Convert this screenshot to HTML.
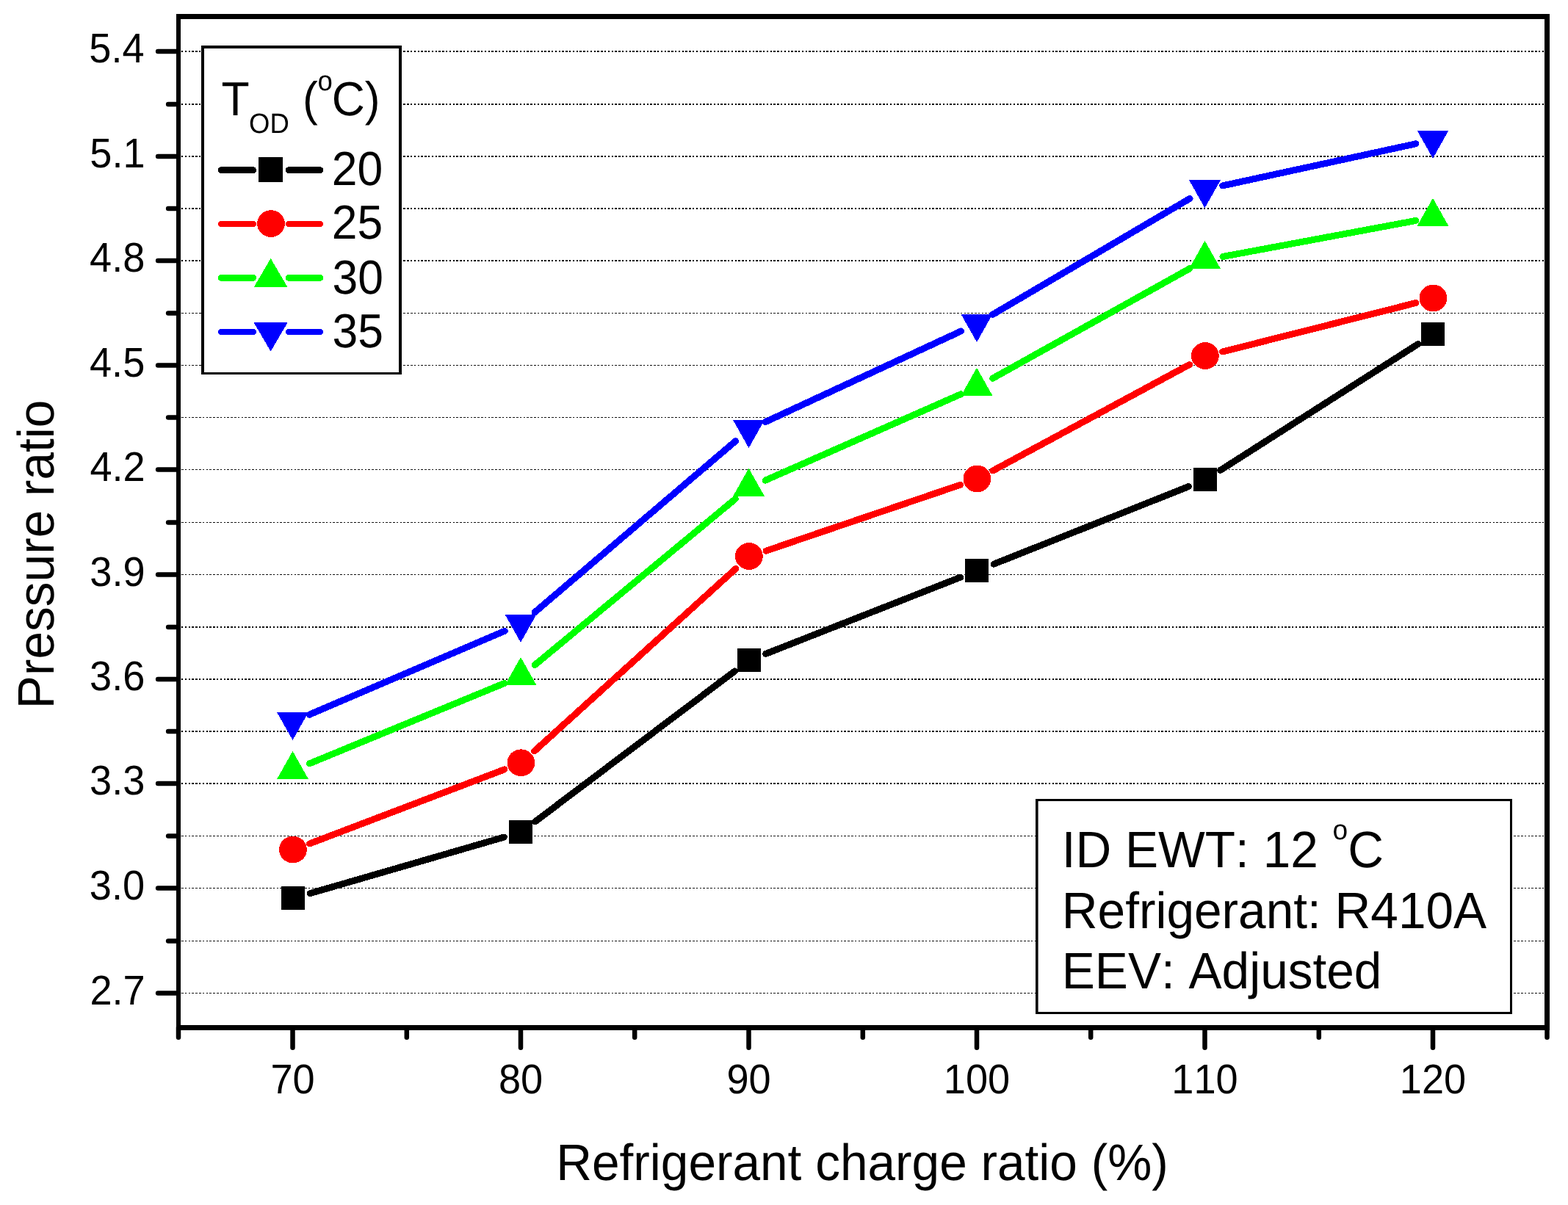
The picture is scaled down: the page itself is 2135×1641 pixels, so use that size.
<!DOCTYPE html>
<html lang="en">
<head>
<meta charset="utf-8">
<title>Pressure ratio vs refrigerant charge ratio</title>
<style>
html,body{margin:0;padding:0;background:#ffffff;}
body{width:2135px;height:1641px;overflow:hidden;}
svg{display:block;}
</style>
</head>
<body>
<svg width="2135" height="1641" viewBox="0 0 2135 1641" font-family="'Liberation Sans', Arial, Helvetica, sans-serif" fill="#000" text-rendering="geometricPrecision" style="font-kerning:none">
<rect x="0" y="0" width="2135" height="1641" fill="#ffffff"/>
<g stroke="#000" fill="none" shape-rendering="crispEdges">
<line x1="247" y1="1352.5" x2="2103" y2="1352.5" stroke-width="1" stroke-dasharray="2.5 2.3"/>
<line x1="247" y1="1281.5" x2="2103" y2="1281.5" stroke-width="1" stroke-dasharray="2.5 2.3"/>
<line x1="247" y1="1209.5" x2="2103" y2="1209.5" stroke-width="1" stroke-dasharray="2.5 2.3"/>
<line x1="247" y1="1138.5" x2="2103" y2="1138.5" stroke-width="1" stroke-dasharray="2.5 2.3"/>
<line x1="247" y1="1067" x2="2103" y2="1067" stroke-width="2" stroke-dasharray="2.4 2.4"/>
<line x1="247" y1="996" x2="2103" y2="996" stroke-width="2" stroke-dasharray="2.4 2.4"/>
<line x1="247" y1="925" x2="2103" y2="925" stroke-width="2" stroke-dasharray="2.4 2.4"/>
<line x1="247" y1="854" x2="2103" y2="854" stroke-width="2" stroke-dasharray="2.4 2.4"/>
<line x1="247" y1="782.5" x2="2103" y2="782.5" stroke-width="1" stroke-dasharray="2.5 2.3"/>
<line x1="247" y1="711.5" x2="2103" y2="711.5" stroke-width="1" stroke-dasharray="2.5 2.3"/>
<line x1="247" y1="639.5" x2="2103" y2="639.5" stroke-width="1" stroke-dasharray="2.5 2.3"/>
<line x1="247" y1="568.5" x2="2103" y2="568.5" stroke-width="1" stroke-dasharray="2.5 2.3"/>
<line x1="247" y1="497.5" x2="2103" y2="497.5" stroke-width="1" stroke-dasharray="2.5 2.3"/>
<line x1="247" y1="426.5" x2="2103" y2="426.5" stroke-width="1" stroke-dasharray="2.5 2.3"/>
<line x1="247" y1="355" x2="2103" y2="355" stroke-width="2" stroke-dasharray="2.4 2.4"/>
<line x1="247" y1="284" x2="2103" y2="284" stroke-width="2" stroke-dasharray="2.4 2.4"/>
<line x1="247" y1="213" x2="2103" y2="213" stroke-width="2" stroke-dasharray="2.4 2.4"/>
<line x1="247" y1="142" x2="2103" y2="142" stroke-width="2" stroke-dasharray="2.4 2.4"/>
<line x1="247" y1="70" x2="2103" y2="70" stroke-width="2" stroke-dasharray="2.4 2.4"/>
</g>
<g shape-rendering="crispEdges">
<g stroke="#000000" stroke-width="9.0" stroke-linecap="round" fill="none">
<line x1="422.3" y1="1216.6" x2="686.2" y2="1140.1"/>
<line x1="728.9" y1="1118.7" x2="1000.6" y2="913.9"/>
<line x1="1042.6" y1="890.4" x2="1307.9" y2="786.1"/>
<line x1="1353.1" y1="768.2" x2="1618.4" y2="662.6"/>
<line x1="1661.5" y1="640.5" x2="1931.0" y2="468.4"/>
</g>
<rect x="382.5" y="1206.9" width="32" height="32" fill="#000000"/>
<rect x="693.0" y="1116.8" width="32" height="32" fill="#000000"/>
<rect x="1003.5" y="882.8" width="32" height="32" fill="#000000"/>
<rect x="1314.0" y="760.7" width="32" height="32" fill="#000000"/>
<rect x="1624.5" y="637.1" width="32" height="32" fill="#000000"/>
<rect x="1935.0" y="438.8" width="32" height="32" fill="#000000"/>
<g stroke="#ff0000" stroke-width="9.0" stroke-linecap="round" fill="none">
<line x1="421.7" y1="1148.9" x2="686.8" y2="1047.9"/>
<line x1="727.5" y1="1023.0" x2="1002.0" y2="774.3"/>
<line x1="1043.0" y1="750.2" x2="1307.5" y2="660.3"/>
<line x1="1351.9" y1="641.0" x2="1619.6" y2="496.5"/>
<line x1="1664.6" y1="479.0" x2="1927.9" y2="412.5"/>
</g>
<ellipse cx="398.9" cy="1157.0" rx="18.9" ry="18.4" fill="#ff0000"/>
<ellipse cx="709.4" cy="1038.8" rx="18.9" ry="18.4" fill="#ff0000"/>
<ellipse cx="1019.9" cy="757.5" rx="18.9" ry="18.4" fill="#ff0000"/>
<ellipse cx="1330.4" cy="652.0" rx="18.9" ry="18.4" fill="#ff0000"/>
<ellipse cx="1640.9" cy="484.5" rx="18.9" ry="18.4" fill="#ff0000"/>
<ellipse cx="1951.4" cy="406.0" rx="18.9" ry="18.4" fill="#ff0000"/>
<g stroke="#00ff00" stroke-width="9.0" stroke-linecap="round" fill="none">
<line x1="421.5" y1="1039.8" x2="687.0" y2="930.4"/>
<line x1="728.2" y1="905.6" x2="1001.3" y2="679.4"/>
<line x1="1042.2" y1="654.1" x2="1308.3" y2="536.8"/>
<line x1="1351.7" y1="515.2" x2="1619.8" y2="365.8"/>
<line x1="1664.9" y1="349.5" x2="1927.6" y2="300.5"/>
</g>
<polygon points="377.9,1060.5 419.1,1060.5 398.5,1023.9" fill="#00ff00" stroke="#00ff00" stroke-width="1" stroke-linejoin="round"/>
<polygon points="688.4,932.5 729.6,932.5 709.0,895.9" fill="#00ff00" stroke="#00ff00" stroke-width="1" stroke-linejoin="round"/>
<polygon points="998.9,675.3 1040.1,675.3 1019.5,638.7" fill="#00ff00" stroke="#00ff00" stroke-width="1" stroke-linejoin="round"/>
<polygon points="1309.4,538.4 1350.6,538.4 1330.0,501.8" fill="#00ff00" stroke="#00ff00" stroke-width="1" stroke-linejoin="round"/>
<polygon points="1619.9,365.4 1661.1,365.4 1640.5,328.8" fill="#00ff00" stroke="#00ff00" stroke-width="1" stroke-linejoin="round"/>
<polygon points="1930.4,307.4 1971.6,307.4 1951.0,270.8" fill="#00ff00" stroke="#00ff00" stroke-width="1" stroke-linejoin="round"/>
<g stroke="#0000ff" stroke-width="9.0" stroke-linecap="round" fill="none">
<line x1="421.3" y1="973.2" x2="687.2" y2="859.3"/>
<line x1="728.0" y1="833.9" x2="1001.5" y2="600.7"/>
<line x1="1042.0" y1="574.7" x2="1308.5" y2="451.0"/>
<line x1="1351.4" y1="428.5" x2="1620.1" y2="270.4"/>
<line x1="1664.7" y1="252.9" x2="1927.8" y2="195.8"/>
</g>
<polygon points="377.9,970.4 419.1,970.4 398.5,1007.0" fill="#0000ff" stroke="#0000ff" stroke-width="1" stroke-linejoin="round"/>
<polygon points="688.4,837.3 729.6,837.3 709.0,873.9" fill="#0000ff" stroke="#0000ff" stroke-width="1" stroke-linejoin="round"/>
<polygon points="998.9,572.5 1040.1,572.5 1019.5,609.1" fill="#0000ff" stroke="#0000ff" stroke-width="1" stroke-linejoin="round"/>
<polygon points="1309.4,428.4 1350.6,428.4 1330.0,465.0" fill="#0000ff" stroke="#0000ff" stroke-width="1" stroke-linejoin="round"/>
<polygon points="1619.9,245.7 1661.1,245.7 1640.5,282.3" fill="#0000ff" stroke="#0000ff" stroke-width="1" stroke-linejoin="round"/>
<polygon points="1930.4,178.2 1971.6,178.2 1951.0,214.8" fill="#0000ff" stroke="#0000ff" stroke-width="1" stroke-linejoin="round"/>
</g>
<path d="M240 19H2110V1403H240Z M246 26V1396H2103V26Z" fill="#000" fill-rule="evenodd" shape-rendering="crispEdges"/>
<g stroke="#000" stroke-width="6.5" stroke-linecap="round" fill="none">
<line x1="243" y1="1352.5" x2="215.1" y2="1352.5"/>
<line x1="243" y1="1281.5" x2="229.1" y2="1281.5"/>
<line x1="243" y1="1209.5" x2="215.1" y2="1209.5"/>
<line x1="243" y1="1138.5" x2="229.1" y2="1138.5"/>
<line x1="243" y1="1067.0" x2="215.1" y2="1067.0"/>
<line x1="243" y1="996.0" x2="229.1" y2="996.0"/>
<line x1="243" y1="925.0" x2="215.1" y2="925.0"/>
<line x1="243" y1="854.0" x2="229.1" y2="854.0"/>
<line x1="243" y1="782.5" x2="215.1" y2="782.5"/>
<line x1="243" y1="711.5" x2="229.1" y2="711.5"/>
<line x1="243" y1="639.5" x2="215.1" y2="639.5"/>
<line x1="243" y1="568.5" x2="229.1" y2="568.5"/>
<line x1="243" y1="497.5" x2="215.1" y2="497.5"/>
<line x1="243" y1="426.5" x2="229.1" y2="426.5"/>
<line x1="243" y1="355.0" x2="215.1" y2="355.0"/>
<line x1="243" y1="284.0" x2="229.1" y2="284.0"/>
<line x1="243" y1="213.0" x2="215.1" y2="213.0"/>
<line x1="243" y1="142.0" x2="229.1" y2="142.0"/>
<line x1="243" y1="70.0" x2="215.1" y2="70.0"/>
<line x1="243.0" y1="1399.5" x2="243.0" y2="1412.7"/>
<line x1="398.5" y1="1399.5" x2="398.5" y2="1426.7"/>
<line x1="553.8" y1="1399.5" x2="553.8" y2="1412.7"/>
<line x1="709.0" y1="1399.5" x2="709.0" y2="1426.7"/>
<line x1="864.2" y1="1399.5" x2="864.2" y2="1412.7"/>
<line x1="1019.5" y1="1399.5" x2="1019.5" y2="1426.7"/>
<line x1="1174.8" y1="1399.5" x2="1174.8" y2="1412.7"/>
<line x1="1330.0" y1="1399.5" x2="1330.0" y2="1426.7"/>
<line x1="1485.2" y1="1399.5" x2="1485.2" y2="1412.7"/>
<line x1="1640.5" y1="1399.5" x2="1640.5" y2="1426.7"/>
<line x1="1795.8" y1="1399.5" x2="1795.8" y2="1412.7"/>
<line x1="1951.0" y1="1399.5" x2="1951.0" y2="1426.7"/>
<line x1="2106.5" y1="1399.5" x2="2106.5" y2="1412.7"/>
</g>
<text transform="translate(122.45 1368.00) scale(0.955 1)" font-size="56.7">2.7</text>
<text transform="translate(121.84 1225.00) scale(0.955 1)" font-size="56.7">3.0</text>
<text transform="translate(122.11 1082.00) scale(0.955 1)" font-size="56.7">3.3</text>
<text transform="translate(122.11 940.00) scale(0.955 1)" font-size="56.7">3.6</text>
<text transform="translate(122.29 798.00) scale(0.955 1)" font-size="56.7">3.9</text>
<text transform="translate(122.45 655.00) scale(0.955 1)" font-size="56.7">4.2</text>
<text transform="translate(122.00 513.00) scale(0.955 1)" font-size="56.7">4.5</text>
<text transform="translate(122.08 370.00) scale(0.955 1)" font-size="56.7">4.8</text>
<text transform="translate(122.37 228.00) scale(0.955 1)" font-size="56.7">5.1</text>
<text transform="translate(121.31 85.00) scale(0.955 1)" font-size="56.7">5.4</text>
<text transform="translate(368.39 1489.00) scale(0.955 1)" font-size="56.7">70</text>
<text transform="translate(678.89 1489.00) scale(0.955 1)" font-size="56.7">80</text>
<text transform="translate(989.39 1489.00) scale(0.955 1)" font-size="56.7">90</text>
<text transform="translate(1284.83 1489.00) scale(0.955 1)" font-size="56.7">100</text>
<text transform="translate(1595.33 1489.00) scale(0.955 1)" font-size="56.7">110</text>
<text transform="translate(1905.83 1489.00) scale(0.955 1)" font-size="56.7">120</text>
<text transform="translate(757.16 1607.00) scale(0.968 1)" font-size="69.8">Refrigerant charge ratio (%)</text>
<text transform="translate(72.5 965.14) rotate(-90) scale(0.968 1)" font-size="69.8">Pressure ratio</text>
<rect x="274" y="62" width="273" height="448" fill="#fff"/>
<path d="M274 62H547V510H274Z M278 66V506.6H543V66Z" fill="#000" fill-rule="evenodd" shape-rendering="crispEdges"/>
<text transform="translate(301.496 157) scale(0.96 1)" font-size="65.0"><tspan x="0" y="0">T</tspan><tspan x="39.17" y="23.6" font-size="38.0">OD</tspan><tspan x="97.04" y="0"> (</tspan><tspan x="136.36" y="-34.3" font-size="38.0">o</tspan><tspan x="156.57" y="0">C)</tspan></text>
<g stroke="#000000" stroke-width="8.8" stroke-linecap="round" shape-rendering="crispEdges"><line x1="301.3" y1="231.6" x2="344.6" y2="231.6"/><line x1="393.3" y1="231.6" x2="435.8" y2="231.6"/></g>
<rect x="351.9" y="214.4" width="33.5" height="33.5" fill="#000000" shape-rendering="crispEdges"/>
<g stroke="#ff0000" stroke-width="8.8" stroke-linecap="round" shape-rendering="crispEdges"><line x1="301.3" y1="305.0" x2="344.6" y2="305.0"/><line x1="393.3" y1="305.0" x2="435.8" y2="305.0"/></g>
<ellipse cx="369.0" cy="304.6" rx="18.9" ry="18.4" fill="#ff0000" shape-rendering="crispEdges"/>
<g stroke="#00ff00" stroke-width="8.8" stroke-linecap="round" shape-rendering="crispEdges"><line x1="301.3" y1="378.4" x2="344.6" y2="378.4"/><line x1="393.3" y1="378.4" x2="435.8" y2="378.4"/></g>
<polygon points="346.5,390.6 390.7,390.6 368.6,352.9" fill="#00ff00" stroke="#00ff00" stroke-width="1" stroke-linejoin="round" shape-rendering="crispEdges"/>
<g stroke="#0000ff" stroke-width="8.8" stroke-linecap="round" shape-rendering="crispEdges"><line x1="301.3" y1="452.0" x2="344.6" y2="452.0"/><line x1="393.3" y1="452.0" x2="435.8" y2="452.0"/></g>
<polygon points="346.5,439.8 390.7,439.8 368.6,477.5" fill="#0000ff" stroke="#0000ff" stroke-width="1" stroke-linejoin="round" shape-rendering="crispEdges"/>
<text transform="translate(451.76 252.00) scale(0.96 1)" font-size="65.0">20</text>
<text transform="translate(451.76 325.00) scale(0.96 1)" font-size="65.0">25</text>
<text transform="translate(452.52 399.50) scale(0.96 1)" font-size="65.0">30</text>
<text transform="translate(452.52 472.50) scale(0.96 1)" font-size="65.0">35</text>
<rect x="1410" y="1088" width="649" height="293" fill="#fff"/>
<path d="M1410 1088H2059V1381H1410Z M1413.6 1091V1378H2056V1091Z" fill="#000" fill-rule="evenodd"/>
<text transform="translate(1445.66 1181) scale(0.968 1)" font-size="69.8"><tspan x="0" y="0">ID EWT: 12 </tspan><tspan x="381.08" y="-37.7" font-size="38.3">o</tspan><tspan x="402.39" y="0">C</tspan></text>
<text transform="translate(1445.76 1264.00) scale(0.968 1)" font-size="69.8">Refrigerant: R410A</text>
<text transform="translate(1445.76 1346.00) scale(0.968 1)" font-size="69.8">EEV: Adjusted</text>
</svg>
</body>
</html>
